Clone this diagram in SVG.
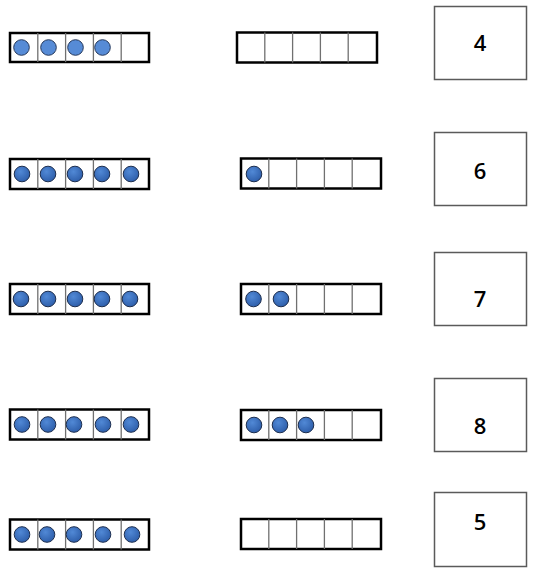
<svg xmlns="http://www.w3.org/2000/svg" width="535" height="573" viewBox="0 0 535 573">
<defs>
<radialGradient id="dot" cx="0.4" cy="0.35" r="0.7">
<stop offset="0" stop-color="#5189d6"/>
<stop offset="1" stop-color="#2c5ca8"/>
</radialGradient>
<style>
.frame{fill:#fff;stroke:#000;stroke-width:2.5}
.div{stroke:#707070;stroke-width:1.3}
.dot{fill:url(#dot);stroke:#1e2f4f;stroke-width:1}
.dotl{fill:#568bd6;stroke:#26395c;stroke-width:1}
.box{fill:#fff;stroke:#5a5a5a;stroke-width:1.5}
.num{font-family:"Open Sans","Liberation Sans",sans-serif;font-size:22px;font-weight:600;fill:#000;text-anchor:middle}
</style>
<g id="cells">
<line class="div" x1="27.8" y1="0" x2="27.8" y2="30"/>
<line class="div" x1="55.6" y1="0" x2="55.6" y2="30"/>
<line class="div" x1="83.4" y1="0" x2="83.4" y2="30"/>
<line class="div" x1="111.2" y1="0" x2="111.2" y2="30"/>
</g>
</defs>
<rect width="535" height="573" fill="#fff"/>

<!-- Row 1 -->
<g id="row1-left" transform="translate(10,33)">
<rect class="frame" x="0" y="0" width="139" height="29"/>
<use href="#cells" transform="scale(1,0.97)"/>
<circle class="dotl" cx="11.5" cy="14.5" r="7.8"/>
<circle class="dotl" cx="38.5" cy="14.5" r="7.8"/>
<circle class="dotl" cx="65.5" cy="14.5" r="7.8"/>
<circle class="dotl" cx="92.5" cy="14.5" r="7.8"/>
</g>
<g id="row1-mid" transform="translate(237,32.5)">
<rect class="frame" x="0" y="0" width="140" height="30"/>
<use href="#cells"/>
</g>
<g id="row1-box">
<rect class="box" x="434.5" y="6.5" width="92" height="73"/>
<text class="num" x="480" y="51" font-weight="bold">4</text>
</g>

<!-- Row 2 -->
<g id="row2-left" transform="translate(10,159)">
<rect class="frame" x="0" y="0" width="139" height="30"/>
<use href="#cells"/>
<circle class="dot" cx="12" cy="15" r="7.8"/>
<circle class="dot" cx="38" cy="15" r="7.8"/>
<circle class="dot" cx="65" cy="15" r="7.8"/>
<circle class="dot" cx="92" cy="15" r="7.8"/>
<circle class="dot" cx="121" cy="15" r="7.8"/>
</g>
<g id="row2-mid" transform="translate(241,158.5)">
<rect class="frame" x="0" y="0" width="140" height="30"/>
<use href="#cells"/>
<circle class="dot" cx="13" cy="15.5" r="7.8"/>
</g>
<g id="row2-box">
<rect class="box" x="434.5" y="132.5" width="92" height="73"/>
<text class="num" x="480" y="179">6</text>
</g>

<!-- Row 3 -->
<g id="row3-left" transform="translate(10,284)">
<rect class="frame" x="0" y="0" width="139" height="30"/>
<use href="#cells"/>
<circle class="dot" cx="11" cy="15" r="7.8"/>
<circle class="dot" cx="38" cy="15" r="7.8"/>
<circle class="dot" cx="65" cy="15" r="7.8"/>
<circle class="dot" cx="92" cy="15" r="7.8"/>
<circle class="dot" cx="120" cy="15" r="7.8"/>
</g>
<g id="row3-mid" transform="translate(241,284)">
<rect class="frame" x="0" y="0" width="140" height="30"/>
<use href="#cells"/>
<circle class="dot" cx="12.5" cy="15" r="7.8"/>
<circle class="dot" cx="40" cy="15" r="7.8"/>
</g>
<g id="row3-box">
<rect class="box" x="434.5" y="252.5" width="92" height="73"/>
<text class="num" x="480" y="307">7</text>
</g>

<!-- Row 4 -->
<g id="row4-left" transform="translate(10,409.5)">
<rect class="frame" x="0" y="0" width="139" height="30"/>
<use href="#cells"/>
<circle class="dot" cx="12" cy="15" r="7.8"/>
<circle class="dot" cx="38" cy="15" r="7.8"/>
<circle class="dot" cx="64" cy="15" r="7.8"/>
<circle class="dot" cx="93" cy="15" r="7.8"/>
<circle class="dot" cx="121" cy="15" r="7.8"/>
</g>
<g id="row4-mid" transform="translate(241,410)">
<rect class="frame" x="0" y="0" width="140" height="30"/>
<use href="#cells"/>
<circle class="dot" cx="13" cy="15" r="7.8"/>
<circle class="dot" cx="39" cy="15" r="7.8"/>
<circle class="dot" cx="65" cy="15" r="7.8"/>
</g>
<g id="row4-box">
<rect class="box" x="434.5" y="378.5" width="92" height="73"/>
<text class="num" x="480" y="434">8</text>
</g>

<!-- Row 5 -->
<g id="row5-left" transform="translate(10,519.5)">
<rect class="frame" x="0" y="0" width="139" height="30"/>
<use href="#cells"/>
<circle class="dot" cx="12" cy="15" r="7.8"/>
<circle class="dot" cx="37" cy="15" r="7.8"/>
<circle class="dot" cx="64" cy="15" r="7.8"/>
<circle class="dot" cx="93" cy="15" r="7.8"/>
<circle class="dot" cx="122" cy="15" r="7.8"/>
</g>
<g id="row5-mid" transform="translate(241,519)">
<rect class="frame" x="0" y="0" width="140" height="30"/>
<use href="#cells"/>
</g>
<g id="row5-box">
<rect class="box" x="434.5" y="492.5" width="92" height="74"/>
<text class="num" x="480" y="530">5</text>
</g>
</svg>
